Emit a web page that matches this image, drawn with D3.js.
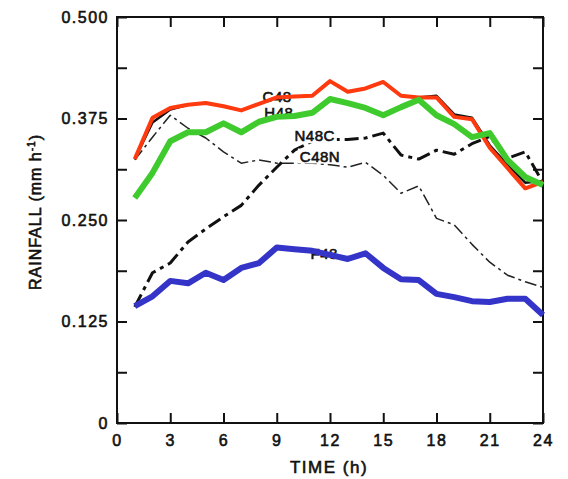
<!DOCTYPE html>
<html>
<head>
<meta charset="utf-8">
<script src="https://cdn.jsdelivr.net/npm/d3@7"></script>
<style>
body { margin: 0; background: #fff; }
svg text { font-family: "Liberation Sans", Arial, sans-serif; fill: #111; stroke: #111; stroke-width: 0.6px; }
</style>
</head>
<body>
<svg></svg>
<script>
var width = 568;
var height = 479;

var hours = d3.range(1, 25);
var c48 = [0.325, 0.370, 0.386, 0.392, 0.394, 0.390, 0.385, 0.393, 0.401, 0.402, 0.403, 0.421, 0.408, 0.412, 0.420, 0.403, 0.401, 0.403, 0.380, 0.376, 0.342, 0.318, 0.296, 0.298];
var c48red = [0.325, 0.376, 0.388, 0.392, 0.394, 0.390, 0.385, 0.393, 0.401, 0.402, 0.403, 0.421, 0.408, 0.412, 0.420, 0.403, 0.401, 0.401, 0.377, 0.374, 0.339, 0.314, 0.289, 0.297];
var h48 = [0.277, 0.308, 0.347, 0.358, 0.358, 0.369, 0.358, 0.371, 0.377, 0.378, 0.382, 0.399, 0.394, 0.388, 0.379, 0.389, 0.398, 0.379, 0.368, 0.352, 0.357, 0.324, 0.303, 0.293];
var n48c = [0.143, 0.185, 0.197, 0.223, 0.239, 0.254, 0.268, 0.293, 0.315, 0.336, 0.347, 0.349, 0.349, 0.351, 0.357, 0.330, 0.325, 0.336, 0.331, 0.344, 0.353, 0.326, 0.334, 0.296];
var c48n = [0.324, 0.352, 0.379, 0.363, 0.351, 0.334, 0.320, 0.324, 0.320, 0.320, 0.320, 0.318, 0.315, 0.321, 0.305, 0.283, 0.292, 0.252, 0.244, 0.220, 0.198, 0.182, 0.174, 0.167];
var f48 = [0.144, 0.156, 0.175, 0.172, 0.185, 0.176, 0.191, 0.197, 0.216, 0.214, 0.212, 0.207, 0.202, 0.209, 0.191, 0.177, 0.176, 0.159, 0.155, 0.150, 0.149, 0.153, 0.153, 0.133];

var xTicks = [0, 3, 6, 9, 12, 15, 18, 21, 24];
var yTicks = [0, 0.125, 0.25, 0.375, 0.5];
var yTickLabels = ['0', '0.125', '0.250', '0.375', '0.500'];
var yMinor = [0.0625, 0.1875, 0.3125, 0.4375];

var svg = d3.select('svg')
	.attr('width', width)
	.attr('height', height);

var x = d3.scaleLinear()
	.domain([0, 24])
	.range([117, 543]);

var y = d3.scaleLinear()
	.domain([0, 0.5])
	.range([423, 17]);

// frame
svg.append('rect')
	.attr('x', x(0))
	.attr('y', y(0.5))
	.attr('width', x(24) - x(0))
	.attr('height', y(0) - y(0.5))
	.attr('fill', 'none')
	.attr('stroke', '#111')
	.attr('stroke-width', 2);

function styleAxis(g) {
	g.select('.domain').remove();
	g.selectAll('.tick line').attr('stroke', '#111').attr('stroke-width', 2);
	g.selectAll('.tick text')
		.style('font-size', '16px')
		.style('letter-spacing', '1.5px')
		.attr('fill', '#111');
}

svg.append('g')
	.attr('transform', `translate(${x(0)},0)`)
	.call(d3.axisLeft(y).tickValues(yTicks.concat(yMinor)).tickSize(-10).tickPadding(8)
		.tickFormat(function(d) { var i = yTicks.indexOf(d); return i < 0 ? '' : yTickLabels[i]; }))
	.call(styleAxis);

svg.append('g')
	.attr('transform', `translate(${x(24)},0)`)
	.call(d3.axisRight(y).tickValues(yTicks.concat(yMinor)).tickSize(-10).tickFormat(''))
	.call(styleAxis);

svg.append('g')
	.attr('transform', `translate(0,${y(0)})`)
	.call(d3.axisBottom(x).tickValues(xTicks).tickSize(-10).tickPadding(12))
	.call(styleAxis);

svg.append('g')
	.attr('transform', `translate(0,${y(0.5)})`)
	.call(d3.axisTop(x).tickValues(xTicks).tickSize(-10).tickFormat(''))
	.call(styleAxis);

svg.append('text')
	.attr('x', 329)
	.attr('y', 473)
	.attr('text-anchor', 'middle')
	.style('font-size', '17px')
	.style('letter-spacing', '1.5px')
	.text('TIME (h)');

svg.append('text')
	.attr('transform', 'translate(41,212) rotate(-90)')
	.attr('text-anchor', 'middle')
	.style('font-size', '16px')
	.style('letter-spacing', '1px')
	.html('RAINFALL (mm h<tspan dy="-6" font-size="10px">-1</tspan><tspan dy="6">)</tspan>');

var line = d3.line()
	.x(function(d, i) { return x(hours[i]); })
	.y(function(d) { return y(d); });

function plot(data, color, w, dash) {
	svg.append('path')
		.attr('d', line(data))
		.attr('fill', 'none')
		.attr('stroke', color)
		.attr('stroke-width', w)
		.attr('stroke-linejoin', 'round')
		.attr('stroke-dasharray', dash || null);
}

function label(txt, h, v, bg) {
	var t = svg.append('text')
		.attr('x', x(h))
		.attr('y', y(v))
		.style('font-size', '15px')
		.style('letter-spacing', '0.5px')
		.text(txt);
	if (bg) {
		var b = t.node().getBBox();
		svg.insert('rect', function() { return t.node(); })
			.attr('x', b.x - 2).attr('y', b.y + 1)
			.attr('width', b.width + 4).attr('height', b.height - 2)
			.attr('fill', '#fff');
	}
}

label('C48', 8.2, 0.395);
label('H48', 8.3, 0.376);
label('F48', 10.9, 0.202);

plot(c48n, '#222', 1.5, '12,4,3,4');
plot(n48c, '#111', 3, '14,5,4,5');
plot(c48, '#111', 2.5);
plot(f48, '#111', 2);
plot(f48, '#3434c8', 6);
plot(c48red, '#ff3a0f', 4);
plot(h48, '#3fcb2e', 6);

label('N48C', 10.0, 0.347, true);
label('C48N', 10.3, 0.322, true);
</script>
</body>
</html>
